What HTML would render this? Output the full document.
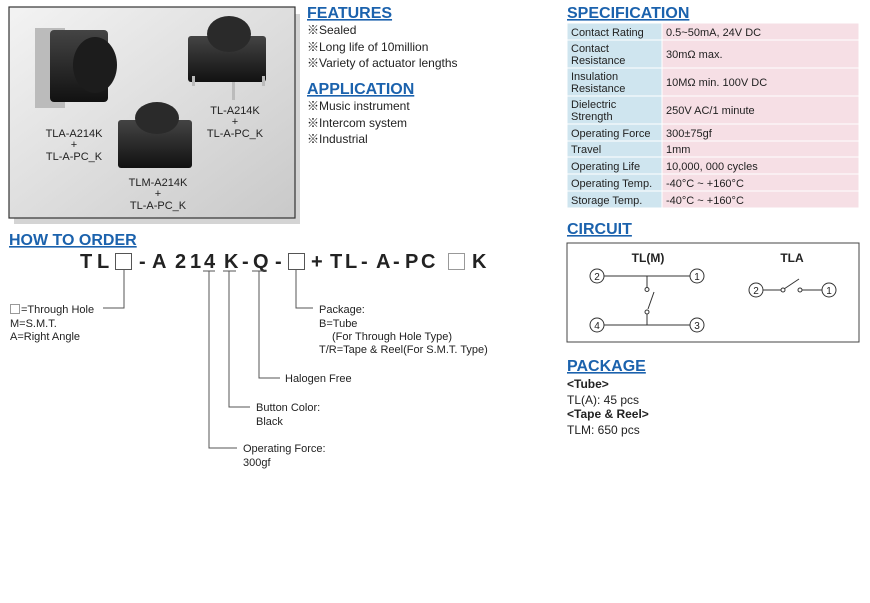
<!DOCTYPE html>
<html><head><meta charset="utf-8"><style>
body{margin:0;width:870px;height:603px;background:#fff;overflow:hidden;font-family:"Liberation Sans","Noto Sans CJK JP",sans-serif}
svg{position:absolute;left:0;top:0}
.h{font-weight:bold;fill:#1b62ad;font-size:16px;text-decoration:underline}
.t{font-size:12px;fill:#222}
.s{font-size:11.5px;fill:#222}
.sm{font-size:11px;fill:#222}
.c{font-size:20px;font-weight:bold;fill:#222}
</style></head><body>
<svg width="870" height="603" viewBox="0 0 870 603">
<defs><linearGradient id="g" x1="0" y1="0" x2="1" y2="1"><stop offset="0" stop-color="#f3f3f3"/><stop offset="1" stop-color="#c9c9c9"/></linearGradient>
<linearGradient id="k" x1="0" y1="0" x2="0" y2="1"><stop offset="0" stop-color="#444"/><stop offset="1" stop-color="#111"/></linearGradient></defs>
<!-- photo box -->
<rect x="14" y="14" width="286" height="210" fill="#d4d4d4"/>
<rect x="9" y="7" width="286" height="211" fill="url(#g)" stroke="#333" stroke-width="1.2"/>
<!-- TLA switch -->
<rect x="35" y="28" width="30" height="80" fill="#bbb"/>
<rect x="50" y="30" width="58" height="72" rx="4" fill="url(#k)"/>
<ellipse cx="95" cy="65" rx="22" ry="28" fill="#1c1c1c"/>
<text class="sm" x="74" y="137" text-anchor="middle">TLA-A214K</text><text class="sm" x="74" y="148" text-anchor="middle">+</text><text class="sm" x="74" y="160" text-anchor="middle">TL-A-PC_K</text>
<!-- TL switch -->
<rect x="188" y="36" width="78" height="46" rx="3" fill="url(#k)"/>
<ellipse cx="229" cy="34" rx="22" ry="18" fill="#2a2a2a"/>
<rect x="232" y="82" width="3" height="18" fill="#bbb"/><rect x="192" y="76" width="3" height="10" fill="#bbb"/><rect x="262" y="76" width="3" height="10" fill="#bbb"/>
<text class="sm" x="235" y="114" text-anchor="middle">TL-A214K</text><text class="sm" x="235" y="125" text-anchor="middle">+</text><text class="sm" x="235" y="137" text-anchor="middle">TL-A-PC_K</text>
<!-- TLM switch -->
<rect x="118" y="120" width="74" height="48" rx="3" fill="url(#k)"/>
<ellipse cx="157" cy="118" rx="22" ry="16" fill="#2a2a2a"/>
<text class="sm" x="158" y="186" text-anchor="middle">TLM-A214K</text><text class="sm" x="158" y="197" text-anchor="middle">+</text><text class="sm" x="158" y="209" text-anchor="middle">TL-A-PC_K</text>

<!-- features -->
<text class="h" x="307" y="18">FEATURES</text>
<text class="t" x="307" y="34">※Sealed</text>
<text class="t" x="307" y="51">※Long life of 10million</text>
<text class="t" x="307" y="67">※Variety of actuator lengths</text>
<text class="h" x="307" y="94">APPLICATION</text>
<text class="t" x="307" y="110">※Music instrument</text>
<text class="t" x="307" y="127">※Intercom system</text>
<text class="t" x="307" y="143">※Industrial</text>

<!-- spec -->
<text class="h" x="567" y="18">SPECIFICATION</text>
<g stroke="#fff" stroke-width="1">
<rect x="567" y="23" width="95" height="185" fill="#cfe5ef"/>
<rect x="662" y="23" width="197" height="185" fill="#f6dfe5"/>
<line x1="567" y1="40" x2="859" y2="40"/><line x1="567" y1="68" x2="859" y2="68"/><line x1="567" y1="96" x2="859" y2="96"/><line x1="567" y1="124" x2="859" y2="124"/><line x1="567" y1="141" x2="859" y2="141"/><line x1="567" y1="157" x2="859" y2="157"/><line x1="567" y1="174" x2="859" y2="174"/><line x1="567" y1="191" x2="859" y2="191"/>
</g>
<g class="sm">
<text class="sm" x="571" y="36">Contact Rating</text><text class="sm" x="666" y="36">0.5~50mA, 24V DC</text>
<text class="sm" x="571" y="52">Contact</text><text class="sm" x="571" y="64">Resistance</text><text class="sm" x="666" y="58">30mΩ max.</text>
<text class="sm" x="571" y="80">Insulation</text><text class="sm" x="571" y="92">Resistance</text><text class="sm" x="666" y="86">10MΩ min. 100V DC</text>
<text class="sm" x="571" y="108">Dielectric</text><text class="sm" x="571" y="120">Strength</text><text class="sm" x="666" y="114">250V AC/1 minute</text>
<text class="sm" x="571" y="137">Operating Force</text><text class="sm" x="666" y="137">300±75gf</text>
<text class="sm" x="571" y="153">Travel</text><text class="sm" x="666" y="153">1mm</text>
<text class="sm" x="571" y="170">Operating Life</text><text class="sm" x="666" y="170">10,000, 000 cycles</text>
<text class="sm" x="571" y="187">Operating Temp.</text><text class="sm" x="666" y="187">-40°C ~ +160°C</text>
<text class="sm" x="571" y="204">Storage Temp.</text><text class="sm" x="666" y="204">-40°C ~ +160°C</text>
</g>

<!-- how to order -->
<text class="h" x="9" y="245">HOW TO ORDER</text>
<g class="c">
<text class="c" x="80" y="268">T</text><text class="c" x="97" y="268">L</text>
<text class="c" x="139" y="268">-</text><text class="c" x="152" y="268">A</text><text class="c" x="175" y="268">2</text><text class="c" x="190" y="268">1</text><text class="c" x="204" y="268">4</text><text class="c" x="224" y="268">K</text><text class="c" x="242" y="268">-</text><text class="c" x="253" y="268">Q</text><text class="c" x="275" y="268">-</text>
<text class="c" x="311" y="268">+</text><text class="c" x="330" y="268">T</text><text class="c" x="345" y="268">L</text><text class="c" x="361" y="268">-</text><text class="c" x="376" y="268">A</text><text class="c" x="393" y="268">-</text><text class="c" x="405" y="268">P</text><text class="c" x="421" y="268">C</text><text class="c" x="472" y="268">K</text>
</g>
<g fill="none" stroke="#555" stroke-width="1">
<rect x="115.5" y="253.5" width="16" height="16"/><rect x="288.5" y="253.5" width="16" height="16"/><rect x="448.5" y="253.5" width="16" height="16" stroke="#999"/>
<line x1="203" y1="271" x2="215" y2="271"/><line x1="223" y1="271" x2="236" y2="271"/><line x1="252" y1="271" x2="267" y2="271"/>
<polyline points="124,270 124,308 103,308"/>
<polyline points="209,271 209,448 237,448"/>
<polyline points="229,271 229,407 250,407"/>
<polyline points="259,271 259,378 280,378"/>
<polyline points="296,270 296,308 313,308"/>
<rect x="10.5" y="304.5" width="9" height="9" stroke="#999"/>
</g>
<text class="sm" x="21" y="313">=Through Hole</text>
<text class="sm" x="10" y="327">M=S.M.T.</text>
<text class="sm" x="10" y="340">A=Right Angle</text>
<text class="sm" x="319" y="313">Package:</text>
<text class="sm" x="319" y="327">B=Tube</text>
<text class="sm" x="332" y="340">(For Through Hole Type)</text>
<text class="sm" x="319" y="353">T/R=Tape &amp; Reel(For S.M.T. Type)</text>
<text class="sm" x="285" y="382">Halogen Free</text>
<text class="sm" x="256" y="411">Button Color:</text>
<text class="sm" x="256" y="425">Black</text>
<text class="sm" x="243" y="452">Operating Force:</text>
<text class="sm" x="243" y="466">300gf</text>

<!-- circuit -->
<text class="h" x="567" y="234">CIRCUIT</text>
<rect x="567" y="243" width="292" height="99" fill="none" stroke="#444" stroke-width="1"/>
<text x="648" y="262" text-anchor="middle" style="font-size:12px;font-weight:bold;fill:#222">TL(M)</text>
<text x="792" y="262" text-anchor="middle" style="font-size:12px;font-weight:bold;fill:#222">TLA</text>
<g fill="#fff" stroke="#333" stroke-width="1">
<line x1="604" y1="276" x2="690" y2="276"/><line x1="604" y1="325" x2="690" y2="325"/>
<line x1="647" y1="276" x2="647" y2="287"/><line x1="647" y1="314" x2="647" y2="325"/>
<line x1="648" y1="309" x2="654" y2="292"/>
<circle cx="647" cy="289.5" r="2"/><circle cx="647" cy="312" r="2"/>
<circle cx="597" cy="276" r="7"/><circle cx="697" cy="276" r="7"/><circle cx="597" cy="325" r="7"/><circle cx="697" cy="325" r="7"/>
<line x1="763" y1="290" x2="781" y2="290"/><line x1="802" y1="290" x2="822" y2="290"/>
<line x1="784" y1="289" x2="799" y2="279"/>
<circle cx="783" cy="290" r="2"/><circle cx="800" cy="290" r="2"/>
<circle cx="756" cy="290" r="7"/><circle cx="829" cy="290" r="7"/>
</g>
<g style="font-size:10px;fill:#222" text-anchor="middle">
<text x="597" y="280">2</text><text x="697" y="280">1</text><text x="597" y="329">4</text><text x="697" y="329">3</text><text x="756" y="294">2</text><text x="829" y="294">1</text>
</g>

<!-- package -->
<text class="h" x="567" y="371">PACKAGE</text>
<text x="567" y="388" style="font-size:12px;font-weight:bold;fill:#222">&lt;Tube&gt;</text>
<text class="t" x="567" y="404">TL(A): 45 pcs</text>
<text x="567" y="418" style="font-size:12px;font-weight:bold;fill:#222">&lt;Tape &amp; Reel&gt;</text>
<text class="t" x="567" y="434">TLM: 650 pcs</text>
</svg>
</body></html>
